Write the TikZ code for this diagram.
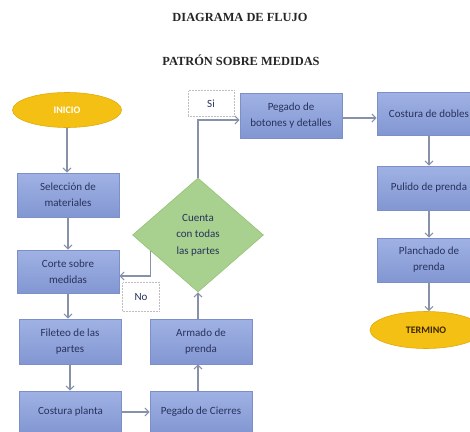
\documentclass[tikz,border=0pt]{standalone}
\usepackage{fontspec}
\setmainfont{Carlito}
\newfontfamily\titlefont{Liberation Serif}
\usetikzlibrary{shapes.geometric,arrows.meta,calc}
\definecolor{boxtop}{RGB}{160,178,228}
\definecolor{boxbot}{RGB}{130,150,210}
\definecolor{boxline}{RGB}{125,143,200}
\definecolor{boxtext}{RGB}{40,50,92}
\definecolor{arrcol}{RGB}{135,145,170}
\definecolor{diafill}{RGB}{168,208,142}
\definecolor{dialine}{RGB}{150,195,120}
\definecolor{ellfill}{RGB}{245,192,20}
\definecolor{ellline}{RGB}{225,170,10}
\definecolor{lblline}{RGB}{190,190,190}
\begin{document}
\begin{tikzpicture}[x=1pt,y=-1pt,
  procbox/.style={rectangle,draw=boxline,line width=0.6pt,top color=boxtop,bottom color=boxbot,
    minimum width=102pt,minimum height=44pt,inner sep=2pt,align=center,
    text=boxtext,font=\fontsize{11}{16}\selectfont},
  termell/.style={ellipse,draw=ellline,line width=0.6pt,fill=ellfill,minimum width=109pt,
    minimum height=35pt,inner sep=0pt,font=\fontsize{10}{12}\selectfont\bfseries},
  decis/.style={diamond,draw=dialine,line width=0.6pt,fill=diafill,minimum width=131pt,
    minimum height=114pt,inner sep=0pt,align=center,text=boxtext,font=\fontsize{11}{16.5}\selectfont},
  lbl/.style={rectangle,draw=lblline,densely dotted,line width=0.5pt,fill=white,
    text=boxtext,font=\fontsize{11}{13}\selectfont},
  arr/.style={draw=arrcol,line width=1.1pt,-{Straight Barb[length=4pt,width=8pt]}},
  titl/.style={font=\titlefont\bfseries\fontsize{12.4}{14}\selectfont,text=black!85}
]
\useasboundingbox (0,0) rectangle (470,431);
\fill[white] (0,0) rectangle (470,431);

\node[titl] (t1) at (240,17.5) {DIAGRAMA DE FLUJO};
\node[titl] (t2) at (241,60) {PATRÓN SOBRE MEDIDAS};

% left column
\node[termell,text=white] (ini) at (67,110) {INICIO};
\node[procbox] (sel) at (68,195) {Selección de\\materiales};
\node[procbox,minimum height=43pt] (corte) at (68,271.5) {Corte sobre\\medidas};
\node[procbox,minimum height=45pt] (file) at (70,341.5) {Fileteo de las\\partes};
\node[procbox,minimum height=42pt] (cpla) at (70.5,412) {Costura planta};

% middle column
\node[procbox,minimum height=42pt] (cier) at (201,412) {Pegado de Cierres};
\node[procbox,minimum height=45pt] (arma) at (201,341.5) {Armado de\\prenda};
\node[decis] (dia) at (198,235) {Cuenta\\con todas\\las partes};
\node[procbox,minimum height=45pt] (pbot) at (291,115.5) {Pegado de\\botones y detalles};

% right column
\node[procbox,minimum width=104pt,minimum height=43pt] (cdob) at (429,113.5) {Costura de dobles};
\node[procbox,minimum width=104pt] (puli) at (429,188) {Pulido de prenda};
\node[procbox,minimum width=104pt] (plan) at (429,260) {Planchado de\\prenda};
\node[termell,text={rgb,255:red,60;green,40;blue,0},minimum width=112pt,minimum height=37pt] (term) at (426,330) {TERMINO};

% helper coordinates
\coordinate (vx) at (198,0);
\coordinate (ny) at (0,276);
\coordinate (siy) at (0,120);
\coordinate (py) at (0,118);
\coordinate (nostart) at ($(dia.west)!0.28!(dia.south)$);

% connectors
\draw[arr] (ini) -- (ini |- sel.north);
\draw[arr] (sel) -- (sel |- corte.north);
\draw[arr] (corte) -- (corte |- file.north);
\draw[arr] (file.south) -- (file.south |- cpla.north);
\draw[arr] (cpla.east) -- (cpla.east -| cier.west);
\draw[arr] (vx |- cier.north) -- (vx |- arma.south);
\draw[arr] (vx |- arma.north) -- (dia.south);
\draw[arr] (nostart) |- (corte.east |- ny);
\draw[arr] (dia.north) |- (pbot.west |- siy);
\draw[arr] (pbot.east |- py) -- (cdob.west |- py);
\draw[arr] (cdob) -- (cdob |- puli.north);
\draw[arr] (puli) -- (puli |- plan.north);
\draw[arr] (plan.south) -- (plan.south |- term.north);

% branch labels
\node[lbl,minimum width=46pt,minimum height=26pt] (si) at (211,103.5) {Si};
\node[lbl,minimum width=37pt,minimum height=29pt] (no) at (141,297) {No};
\end{tikzpicture}
\end{document}
